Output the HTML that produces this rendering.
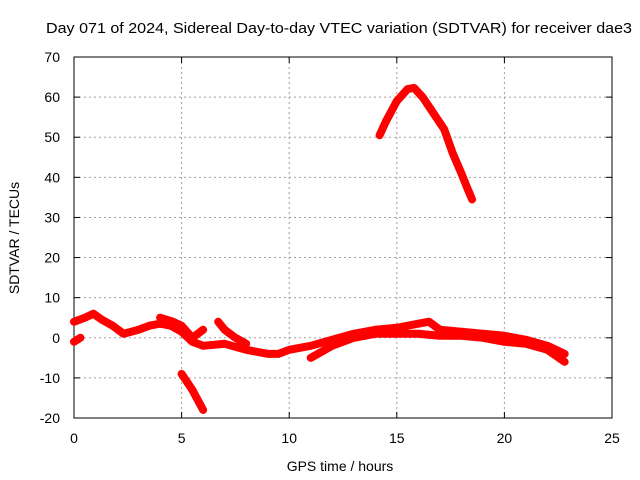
<!DOCTYPE html>
<html><head><meta charset="utf-8"><style>
body{margin:0;background:#fff;}
svg{display:block;font-family:"Liberation Sans",sans-serif;}
</style></head><body>
<svg id="chart" width="640" height="480">
<rect width="640" height="480" fill="#fff"/>
<text x="46" y="33" font-size="14.5" textLength="586" lengthAdjust="spacingAndGlyphs">Day 071 of 2024, Sidereal Day-to-day VTEC variation (SDTVAR) for receiver dae3</text>
<g id="grid"></g><g id="axes"></g><g id="series"></g>
<text x="340" y="471" font-size="14" text-anchor="middle">GPS time / hours</text>
<text transform="translate(19,238) rotate(-90)" font-size="14" text-anchor="middle">SDTVAR / TECUs</text>
</svg>
<script>
const xTicks=[0,5,10,15,20,25];
const yTicks=[-20,-10,0,10,20,30,40,50,60,70];
const trackA=[[0,4],[0.5,5],[0.9,6],[1.3,4.5],[1.8,3],[2.3,1],[3,2],[3.5,3],[4,3.5],[4.5,3],[5,1.5],[5.5,-1],[6,-2],[7,-1.5],[8,-3],[9,-4],[9.5,-4],[10,-3],[11,-2],[12,-0.5],[13,1],[14,2],[15,2.5],[16,3.5],[16.5,4],[17,2],[18,1.5],[19,1],[20,0.5],[21,-0.5],[22,-2],[22.8,-4]];
const trackB=[[0,-1],[0.3,0]];
const trackC=[[4,5],[4.6,4],[5,3],[5.5,0],[6,2]];
const trackD=[[6.7,4],[7,2],[7.5,0],[8,-1.5]];
const trackE=[[11,-5],[12,-2],[13,0],[14,1],[15,1],[16,1],[17,0.5],[18,0.5],[19,0],[20,-1],[21,-1.5],[22,-3],[22.8,-6]];
const trackF=[[5,-9],[5.5,-13],[6,-18]];
const trackG=[[14.2,50.5],[14.5,54],[15,59],[15.5,62],[15.8,62.3],[16.2,60],[16.7,56],[17.2,52],[17.6,46],[18,41],[18.3,37],[18.5,34.5]];
const tracks=[trackA,trackB,trackC,trackD,trackE,trackF,trackG];
const X0=74,X1=612,Y0=418,Y1=57;
const xs=v=>X0+(v-0)/25*(X1-X0);
const ys=v=>Y0-(v+20)/90*(Y0-Y1);
const NS="http://www.w3.org/2000/svg";
const grid=document.getElementById('grid'),axes=document.getElementById('axes'),ser=document.getElementById('series');
function mk(t,a,p){const e=document.createElementNS(NS,t);for(const k in a)e.setAttribute(k,a[k]);p.appendChild(e);return e;}
xTicks.forEach(t=>{
 if(t>0&&t<25){const g=mk('line',{x1:xs(t),x2:xs(t),y1:Y1,y2:Y0,stroke:'#a0a0a0','stroke-dasharray':'2,3'},grid);
 
 }
 const l=mk('text',{x:xs(t),y:Y0+25,'font-size':14,'text-anchor':'middle'},axes);l.textContent=t;
 
 
 mk('line',{x1:xs(t),x2:xs(t),y1:Y0,y2:Y0-6,stroke:'#000'},axes);
 mk('line',{x1:xs(t),x2:xs(t),y1:Y1,y2:Y1+6,stroke:'#000'},axes);
});
yTicks.forEach(t=>{
 if(t>-20&&t<70){const g=mk('line',{x1:X0,x2:X1,y1:ys(t),y2:ys(t),stroke:'#a0a0a0','stroke-dasharray':'2,3'},grid);
 
 }
 const l=mk('text',{x:X0-14,y:ys(t)+5,'font-size':14,'text-anchor':'end'},axes);l.textContent=t;
 
 
 mk('line',{x1:X0,x2:X0+6,y1:ys(t),y2:ys(t),stroke:'#000'},axes);
 mk('line',{x1:X1,x2:X1-6,y1:ys(t),y2:ys(t),stroke:'#000'},axes);
});
const fr=mk('rect',{x:X0,y:Y1,width:X1-X0,height:Y0-Y1,fill:'none',stroke:'#000'},axes);


tracks.forEach(tr=>{
 const p=mk('polyline',{points:tr.map(d=>xs(d[0])+','+ys(d[1])).join(' '),fill:'none',stroke:'#ff0000','stroke-width':8,'stroke-linejoin':'round','stroke-linecap':'round'},ser);
 
 
});
</script>
</body></html>
